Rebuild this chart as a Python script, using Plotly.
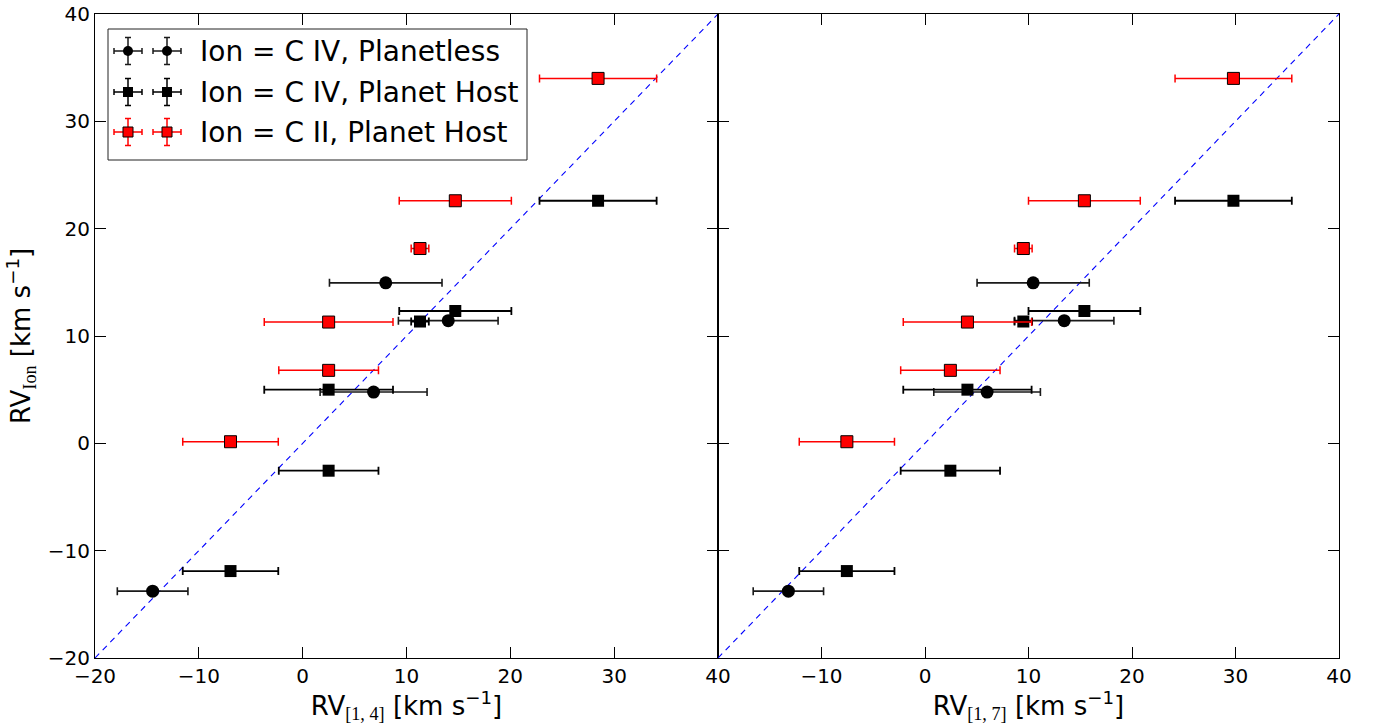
import plotly.graph_objects as go

# ---- data -------------------------------------------------------------
# Planet-host stars: reference RVs from the [1,4] and [1,7] line sets
host_rv14 = [28.45, 14.7, 11.3, 2.5, 2.5, -6.95]
host_rv17 = [29.8, 15.4, 9.5, 4.1, 2.45, -7.55]
host_rv_err = [5.64, 5.4, 0.85, 6.2, 4.8, 4.6]
host_civ = [22.6, 12.33, 11.35, 5.0, -2.55, -11.9]
host_cii = [34.0, 22.6, 18.15, 11.3, 6.8, 0.15]

# Planetless stars (C IV only)
planetless_rv14 = [8.0, 14.02, 6.83, -14.45]
planetless_rv17 = [10.45, 13.45, 6.0, -13.2]
planetless_rv_err = [5.42, 4.8, 5.15, 3.4]
planetless_civ = [14.95, 11.43, 4.78, -13.77]

# one-to-one reference line
one_to_one = [-20, 40]

x_ticks_left = [-20, -10, 0, 10, 20, 30, 40]
x_ticks_right = [-10, 0, 10, 20, 30, 40]
y_ticks = [-20, -10, 0, 10, 20, 30, 40]

legend_labels = [
    "Ion = C IV, Planetless",
    "Ion = C IV, Planet Host",
    "Ion = C II, Planet Host",
]

# ---- styling ------------------------------------------------------------
FONT = "DejaVu Sans"
SERIF = "Liberation Serif"
RED = "#ff0000"

W, H = 1376, 724
ML, MR, MT, MB = 95, 37, 14, 66
PW, PH = W - ML - MR, H - MT - MB
SPLIT = 623 / PW

fig = go.Figure()


def panel(xa, ya, host_x, pl_x, err_host, err_pl):
    fig.add_trace(go.Scatter(
        x=one_to_one, y=one_to_one, mode="lines", xaxis=xa, yaxis=ya,
        line=dict(color="#0000ff", width=1.1, dash="6px,5px"),
        showlegend=False, hoverinfo="skip"))
    fig.add_trace(go.Scatter(
        x=pl_x, y=planetless_civ, mode="markers", xaxis=xa, yaxis=ya,
        marker=dict(symbol="circle", size=13, color="black"),
        error_x=dict(type="data", array=err_pl, color="#1a1a1a",
                     thickness=1.6, width=4),
        showlegend=False))
    fig.add_trace(go.Scatter(
        x=host_x, y=host_civ, mode="markers", xaxis=xa, yaxis=ya,
        marker=dict(symbol="square", size=12, color="black"),
        error_x=dict(type="data", array=err_host, color="black",
                     thickness=1.8, width=4),
        showlegend=False))
    fig.add_trace(go.Scatter(
        x=host_x, y=host_cii, mode="markers", xaxis=xa, yaxis=ya,
        marker=dict(symbol="square", size=12, color=RED,
                    line=dict(color="black", width=1)),
        error_x=dict(type="data", array=err_host, color=RED,
                     thickness=1.5, width=4),
        showlegend=False))


panel("x", "y", host_rv14, planetless_rv14, host_rv_err, planetless_rv_err)
panel("x2", "y2", host_rv17, planetless_rv17, host_rv_err, planetless_rv_err)

# ---- legend drawn on a pixel-unit overlay axis --------------------------
leg_rows = [607, 566, 526]
leg_cols = [33, 72]
leg_styles = [
    dict(symbol="circle", color="black", line=dict(width=0)),
    dict(symbol="square", color="black", line=dict(width=0)),
    dict(symbol="square", color=RED, line=dict(color="black", width=1)),
]
leg_err_colors = ["#1a1a1a", "black", RED]
for row, style, ecol, label in zip(leg_rows, leg_styles, leg_err_colors,
                                   legend_labels):
    fig.add_trace(go.Scatter(
        x=leg_cols, y=[row, row], mode="markers", xaxis="x3", yaxis="y3",
        marker=dict(size=10, **style),
        error_x=dict(type="constant", value=14, color=ecol,
                     thickness=1.5, width=3),
        error_y=dict(type="constant", value=13.5, color=ecol,
                     thickness=1.5, width=3),
        showlegend=False, hoverinfo="skip"))
    fig.add_annotation(
        x=103, y=row, xref="x3", yref="y3", text=label, showarrow=False,
        xanchor="left", yanchor="middle",
        font=dict(family=FONT, size=28, color="black"))

fig.add_shape(type="rect", xref="x3", yref="y3", x0=13, x1=432,
              y0=498, y1=629, line=dict(color="#222222", width=1),
              fillcolor="rgba(0,0,0,0)", layer="below")

# ---- axes ----------------------------------------------------------------
axis_common = dict(
    range=[-20, 40], showline=True, linecolor="black", linewidth=1,
    mirror="ticks", ticks="inside", ticklen=11, tickwidth=1,
    tickcolor="black", showgrid=False, zeroline=False, automargin=False,
    tickfont=dict(family=FONT, size=20, color="black"), fixedrange=True,
)


def x_title(sub):
    return ("RV<sub><span style=\"font-family:'" + SERIF + "'\">" + sub +
            "</span></sub> [km s<sup>\u22121</sup>]")


fig.update_layout(
    template="none",
    width=W, height=H,
    margin=dict(l=ML, r=MR, t=MT, b=MB, autoexpand=False),
    paper_bgcolor="white", plot_bgcolor="rgba(0,0,0,0)",
    font=dict(family=FONT, color="black"),
    showlegend=False,
    xaxis=dict(domain=[0, SPLIT], anchor="y", tickvals=x_ticks_left,
               title=dict(text=x_title("[1, 4]"), standoff=6,
                          font=dict(family=FONT, size=26)),
               **axis_common),
    xaxis2=dict(domain=[SPLIT, 1], anchor="y2", tickvals=x_ticks_right,
                title=dict(text=x_title("[1, 7]"), standoff=6,
                           font=dict(family=FONT, size=26)),
                **axis_common),
    yaxis=dict(domain=[0, 1], anchor="x", tickvals=y_ticks,
               title=dict(
                   text=("RV<sub><span style=\"font-family:'" + SERIF +
                         "'\">Ion</span></sub> [km s<sup>\u22121</sup>]"),
                   standoff=9, font=dict(family=FONT, size=26)),
               **axis_common),
    yaxis2=dict(domain=[0, 1], anchor="x2", tickvals=y_ticks,
                showticklabels=False, **axis_common),
    xaxis3=dict(domain=[0, 1], anchor="y3", range=[0, PW], visible=False,
                fixedrange=True),
    yaxis3=dict(domain=[0, 1], anchor="x3", range=[0, PH], visible=False,
                fixedrange=True),
)

fig.write_html("out.html")
